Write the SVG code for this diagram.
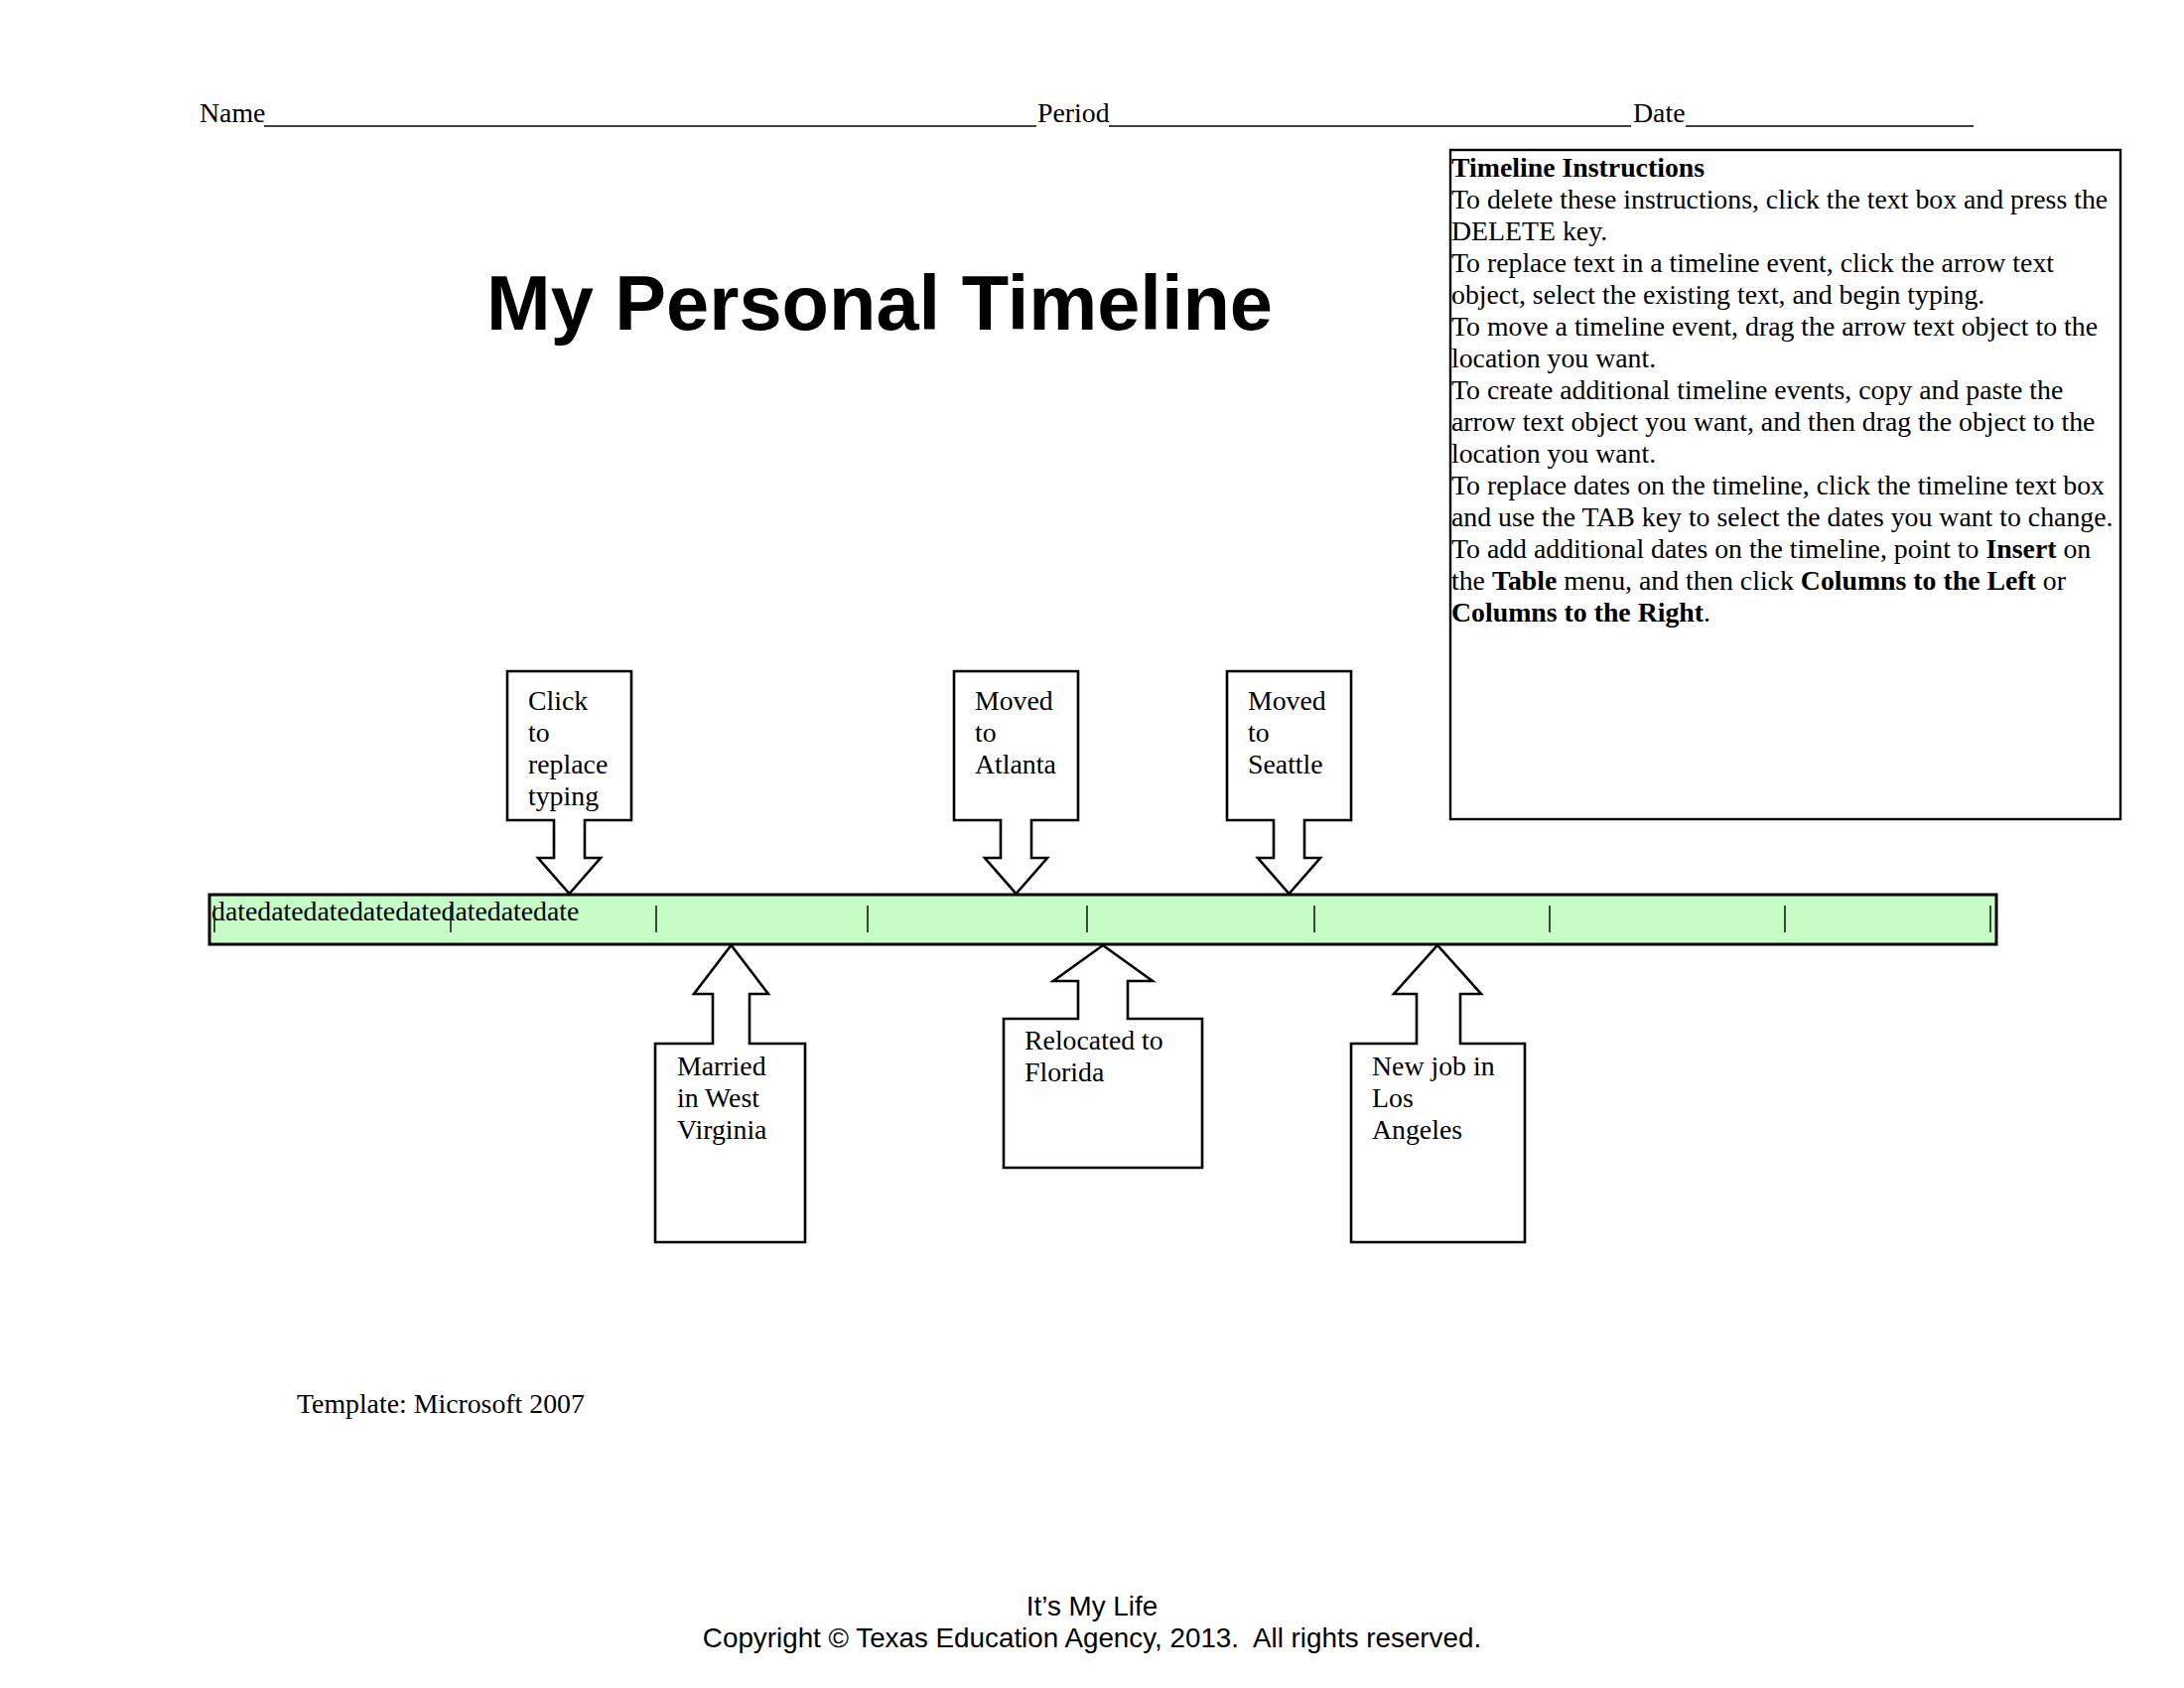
<svg xmlns="http://www.w3.org/2000/svg" width="2200" height="1700" viewBox="0 0 2200 1700">
<style>
.t{font-family:"Liberation Serif","Times New Roman",serif;font-size:27.8px;fill:#000}
.b{font-weight:bold}
.a{font-family:"Liberation Sans",Arial,sans-serif;font-size:27.8px;fill:#000}
.shape{fill:#fff;stroke:#000;stroke-width:2.6;stroke-linejoin:miter}
.ul{stroke:#000;stroke-width:1.6}
.tick{stroke:#1a1a1a;stroke-width:1.6}
</style>
<rect width="2200" height="1700" fill="#fff"/>
<g id="header">
<text class="t" x="201" y="123">Name</text>
<line class="ul" x1="266" y1="127" x2="1044" y2="127"/>
<text class="t" x="1045" y="123">Period</text>
<line class="ul" x1="1117" y1="127" x2="1643" y2="127"/>
<text class="t" x="1645" y="123">Date</text>
<line class="ul" x1="1698" y1="127" x2="1988" y2="127"/>
</g>
<g id="title">
<text class="a b" x="490" y="332" style="font-size:78px" textLength="792" lengthAdjust="spacingAndGlyphs">My Personal Timeline</text>
</g>
<g id="instructions">
<rect x="1461" y="151" width="675" height="674" fill="#fff" stroke="#000" stroke-width="2.4"/>
<text class="t b" x="1462" y="178">Timeline Instructions</text>
<text class="t" x="1462" y="210">To delete these instructions, click the text box and press the</text>
<text class="t" x="1462" y="242">DELETE key.</text>
<text class="t" x="1462" y="274">To replace text in a timeline event, click the arrow text</text>
<text class="t" x="1462" y="306">object, select the existing text, and begin typing.</text>
<text class="t" x="1462" y="338">To move a timeline event, drag the arrow text object to the</text>
<text class="t" x="1462" y="370">location you want.</text>
<text class="t" x="1462" y="402">To create additional timeline events, copy and paste the</text>
<text class="t" x="1462" y="434">arrow text object you want, and then drag the object to the</text>
<text class="t" x="1462" y="466">location you want.</text>
<text class="t" x="1462" y="498">To replace dates on the timeline, click the timeline text box</text>
<text class="t" x="1462" y="530">and use the TAB key to select the dates you want to change.</text>
<text class="t" x="1462" y="562">To add additional dates on the timeline, point to <tspan class="b">Insert</tspan> on</text>
<text class="t" x="1462" y="594">the <tspan class="b">Table</tspan> menu, and then click <tspan class="b">Columns to the Left</tspan> or</text>
<text class="t" x="1462" y="626"><tspan class="b">Columns to the Right</tspan>.</text>
</g>
<g id="timeline">
<rect x="211" y="901" width="1800" height="50" fill="#c6fdc6" stroke="#000" stroke-width="3"/>
<text class="t" x="213" y="927">datedatedatedatedatedatedatedate</text>
<line class="tick" x1="216" y1="912" x2="216" y2="939"/>
<line class="tick" x1="454" y1="912" x2="454" y2="939"/>
<line class="tick" x1="661" y1="912" x2="661" y2="939"/>
<line class="tick" x1="874" y1="912" x2="874" y2="939"/>
<line class="tick" x1="1095" y1="912" x2="1095" y2="939"/>
<line class="tick" x1="1324" y1="912" x2="1324" y2="939"/>
<line class="tick" x1="1561" y1="912" x2="1561" y2="939"/>
<line class="tick" x1="1798" y1="912" x2="1798" y2="939"/>
<line class="tick" x1="2005" y1="912" x2="2005" y2="939"/>
</g>
<g id="connectors"/>
<g id="event-click">
<path class="shape" d="M511,676 H636 V826 H589 V864 H605 L573.5,900 L542,864 H558 V826 H511 Z"/>
<text class="t" x="532" y="715">Click</text>
<text class="t" x="532" y="747">to</text>
<text class="t" x="532" y="779">replace</text>
<text class="t" x="532" y="811">typing</text>
</g>
<g id="event-atlanta">
<path class="shape" d="M961,676 H1086 V826 H1039 V864 H1055 L1023.5,900 L992,864 H1008 V826 H961 Z"/>
<text class="t" x="982" y="715">Moved</text>
<text class="t" x="982" y="747">to</text>
<text class="t" x="982" y="779">Atlanta</text>
</g>
<g id="event-seattle">
<path class="shape" d="M1236,676 H1361 V826 H1314 V864 H1330 L1298.5,900 L1267,864 H1283 V826 H1236 Z"/>
<text class="t" x="1257" y="715">Moved</text>
<text class="t" x="1257" y="747">to</text>
<text class="t" x="1257" y="779">Seattle</text>
</g>
<g id="event-married">
<path class="shape" d="M660,1051 H718 V1001 H699 L736.5,952 L774,1001 H755 V1051 H811 V1251 H660 Z"/>
<text class="t" x="682" y="1083">Married</text>
<text class="t" x="682" y="1115">in West</text>
<text class="t" x="682" y="1147">Virginia</text>
</g>
<g id="event-florida">
<path class="shape" d="M1011,1026 H1086 V988 H1061 L1111,952 L1161,988 H1136 V1026 H1211 V1176 H1011 Z"/>
<text class="t" x="1032" y="1057">Relocated to</text>
<text class="t" x="1032" y="1089">Florida</text>
</g>
<g id="event-losangeles">
<path class="shape" d="M1361,1051 H1427 V1001 H1404 L1448,952 L1492,1001 H1471 V1051 H1536 V1251 H1361 Z"/>
<text class="t" x="1382" y="1083">New job in</text>
<text class="t" x="1382" y="1115">Los</text>
<text class="t" x="1382" y="1147">Angeles</text>
</g>
<g id="template-note">
<text class="t" x="299" y="1423">Template: Microsoft 2007</text>
</g>
<g id="footer">
<text class="a" x="1100" y="1627" text-anchor="middle">It’s My Life</text>
<text class="a" x="1100" y="1659" text-anchor="middle" style="white-space:pre">Copyright © Texas Education Agency, 2013.  All rights reserved.</text>
</g>
</svg>
